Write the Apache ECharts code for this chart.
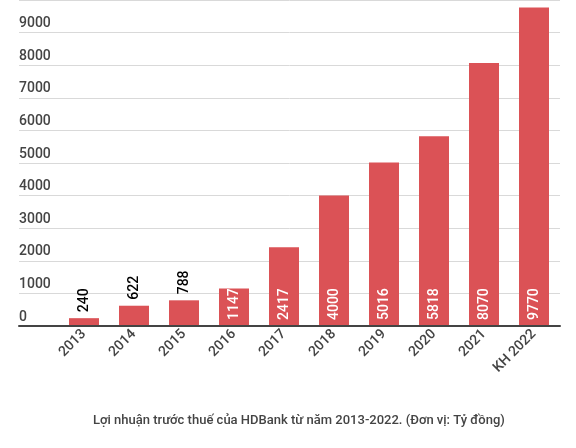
<!DOCTYPE html>
<html><head><meta charset="utf-8">
<script src="https://cdn.jsdelivr.net/npm/echarts@6/dist/echarts.min.js"></script>
<style>html,body{margin:0;padding:0;background:#fff}#c{width:576px;height:448px}</style>
</head><body><div id="c"></div>
<script>
const categories = ['2013','2014','2015','2016','2017','2018','2019','2020','2021','KH 2022'];
const profit = [240, 622, 788, 1147, 2417, 4000, 5016, 5818, 8070, 9770];
const yMin = 0, yMax = 10000, yStep = 1000;
const caption = 'Lợi nhuận trước thuế của HDBank từ năm 2013-2022. (Đơn vị: Tỷ đồng)';

const FONT = 'Roboto';
const chart = echarts.init(document.getElementById('c'), null, {renderer: 'canvas'});
const data = profit.map(v => ({
  value: v,
  label: v >= 1000
    ? {position: 'insideBottom', color: '#fff', distance: 6}
    : {position: 'top', color: '#000', distance: 6}
}));
chart.setOption({
  animation: false,
  backgroundColor: '#fff',
  textStyle: {fontFamily: FONT},
  title: {
    text: caption, left: 88, top: 409,
    textStyle: {fontFamily: FONT, fontSize: 13, fontWeight: 500, color: '#444'}
  },
  grid: [
    {left: 19, right: 16, top: 0, height: 326},
    {left: 59, width: 500, top: 0, height: 326}
  ],
  xAxis: [
    {gridIndex: 0, type: 'category', data: [''], axisTick: {show: false}, axisLabel: {show: false},
     axisLine: {lineStyle: {color: '#444', width: 2}}, z: 5},
    {gridIndex: 1, type: 'category', data: categories, axisTick: {show: false}, axisLine: {show: false},
     axisLabel: {rotate: 45, margin: 6, color: '#444', fontSize: 14, fontWeight: 500, fontFamily: FONT, interval: 0}}
  ],
  yAxis: [
    {gridIndex: 0, type: 'value', min: yMin, max: yMax, interval: yStep,
     axisLine: {show: false}, axisTick: {show: false},
     splitLine: {lineStyle: {color: '#d9d9d9', width: 1}},
     axisLabel: {inside: true, margin: 0, align: 'left', verticalAlign: 'bottom', padding: [0,0,2,0],
       color: '#444', fontSize: 14, fontWeight: 500, fontFamily: FONT, showMaxLabel: false,
       formatter: v => String(v)}},
    {gridIndex: 1, type: 'value', min: yMin, max: yMax, interval: yStep, show: false}
  ],
  series: [{
    type: 'bar', xAxisIndex: 1, yAxisIndex: 1, barWidth: 30,
    itemStyle: {color: '#db5256'},
    label: {show: true, rotate: 90, align: 'left', verticalAlign: 'middle', fontSize: 14, fontWeight: 500, fontFamily: FONT},
    data: data
  }]
});
</script></body></html>
